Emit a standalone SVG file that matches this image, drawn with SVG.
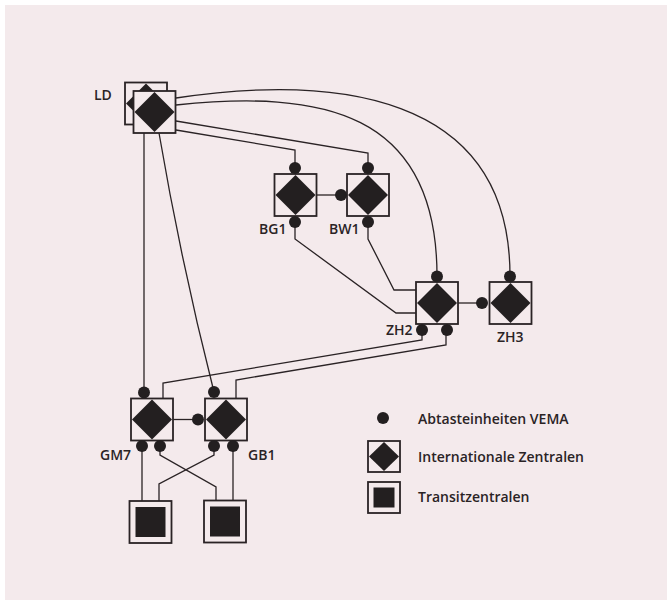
<svg xmlns="http://www.w3.org/2000/svg" width="667" height="600" viewBox="0 0 667 600">
<style>
.bg{fill:#f4eaec}
.ln{fill:none;stroke:#2a2325;stroke-width:1.3;stroke-linejoin:miter}
.box{fill:#f4eaec;stroke:#2a2325;stroke-width:1.8}
.blk{fill:#231f20}
.lbl{font-family:"Open Sans","Liberation Sans",sans-serif;font-weight:600;font-size:14px;fill:#2a2325}
.leg{font-family:"Open Sans","Liberation Sans",sans-serif;font-weight:600;font-size:14px;fill:#2a2325}
</style>
<defs>
<g id="intl">
<rect class="box" x="-21" y="-21" width="42" height="42"/>
<polygon class="blk" points="0,-20 20,0 0,20 -20,0"/>
</g>
<g id="transit">
<rect class="box" x="-21" y="-21" width="42" height="42"/>
<rect class="blk" x="-15" y="-15" width="30" height="30"/>
</g>
</defs>
<rect x="0" y="0" width="667" height="600" fill="#ffffff"/>
<rect class="bg" x="5" y="5" width="662" height="595"/>
<g id="connectors">
<path class="ln" d="M144,133 V392"/>
<path class="ln" d="M159,133 Q181,262 214,392"/>
<path class="ln" d="M176,130 L295,150 V168"/>
<path class="ln" d="M176,121 L368,153 V168"/>
<path class="ln" d="M176,105 C320,90 437,110 437,276"/>
<path class="ln" d="M176,98 C330,75 510,90 510,276"/>
<path class="ln" d="M317,195 H341"/>
<path class="ln" d="M295,221 V239 L396,313 H416"/>
<path class="ln" d="M368,223 V239 L394,290 H416"/>
<path class="ln" d="M458,303 H482"/>
<path class="ln" d="M422,330 V340 L163,383 V399"/>
<path class="ln" d="M446,330 V345 L236,380 V399"/>
<path class="ln" d="M173,419.5 H198"/>
<path class="ln" d="M142,446 V501"/>
<path class="ln" d="M160,446 V455 L216,487 V500"/>
<path class="ln" d="M214,446 V455 L159,484 V501"/>
<path class="ln" d="M233,446 V500"/>
</g>
<g id="LD">
<use href="#intl" x="146" y="103.5"/>
<use href="#intl" x="154.5" y="112"/>
<text class="lbl" x="94" y="100">LD</text>
</g>
<g id="BG1">
<use href="#intl" x="295.5" y="195"/>
<circle class="blk" cx="295" cy="168" r="6"/>
<circle class="blk" cx="295" cy="222" r="6"/>
<text class="lbl" x="259" y="234">BG1</text>
</g>
<g id="BW1">
<use href="#intl" x="368" y="195"/>
<circle class="blk" cx="368" cy="168" r="6"/>
<circle class="blk" cx="341" cy="195" r="6"/>
<circle class="blk" cx="368" cy="222" r="6"/>
<text class="lbl" x="329" y="234">BW1</text>
</g>
<g id="ZH2">
<use href="#intl" x="437" y="303"/>
<circle class="blk" cx="437" cy="276.5" r="6"/>
<circle class="blk" cx="422" cy="330" r="6"/>
<circle class="blk" cx="447" cy="330" r="6"/>
<text class="lbl" x="386" y="335">ZH2</text>
</g>
<g id="ZH3">
<use href="#intl" x="510.5" y="303"/>
<circle class="blk" cx="510" cy="276.5" r="6"/>
<circle class="blk" cx="482" cy="303" r="6"/>
<text class="lbl" x="497" y="342">ZH3</text>
</g>
<g id="GM7">
<use href="#intl" x="152" y="419.5"/>
<circle class="blk" cx="144" cy="392.5" r="6"/>
<circle class="blk" cx="142" cy="446" r="6"/>
<circle class="blk" cx="160" cy="446" r="6"/>
<text class="lbl" x="100" y="460">GM7</text>
</g>
<g id="GB1">
<use href="#intl" x="226" y="419.5"/>
<circle class="blk" cx="214" cy="392" r="6"/>
<circle class="blk" cx="198" cy="419.5" r="6"/>
<circle class="blk" cx="214" cy="446" r="6"/>
<circle class="blk" cx="233" cy="446" r="6"/>
<text class="lbl" x="248" y="460">GB1</text>
</g>
<g id="T1">
<use href="#transit" x="150.5" y="522"/>
</g>
<g id="T2">
<use href="#transit" x="225" y="521.5"/>
</g>
<g id="legend">
<circle class="blk" cx="383" cy="418" r="6"/>
<text class="leg" x="418" y="424">Abtasteinheiten VEMA</text>
<rect class="box" x="368" y="441" width="32" height="31"/>
<polygon class="blk" points="384,442 399,456.5 384,471 369,456.5"/>
<text class="leg" x="418" y="462">Internationale Zentralen</text>
<rect class="box" x="368" y="482" width="32" height="31"/>
<rect class="blk" x="373.5" y="487.5" width="21" height="20"/>
<text class="leg" x="418" y="502">Transitzentralen</text>
</g>
</svg>
